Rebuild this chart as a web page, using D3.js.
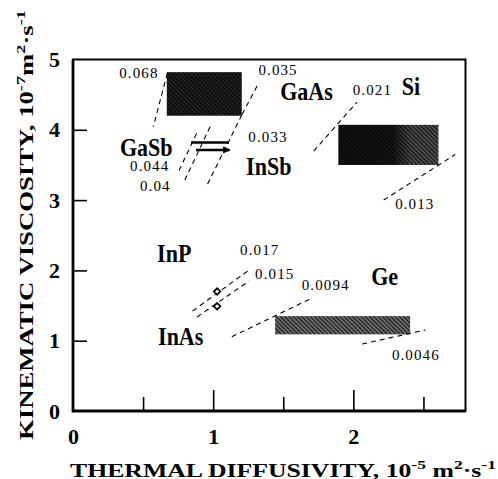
<!DOCTYPE html>
<html>
<head>
<meta charset="utf-8">
<script src="https://cdn.jsdelivr.net/npm/d3@7"></script>
<style>
    body { margin: 0; background: #fff; }
    svg { display: block; }
    text { font-family: "Liberation Serif", "Times New Roman", serif; fill: #000; }
</style>
</head>
<body>
<svg id="chart" width="498" height="479"></svg>
<script>

// Material boxes (thermal diffusivity range, kinematic viscosity range)
var boxNames = ['GaAs', 'Si', 'Ge'];
var boxAlpha = [[0.669, 1.204], [1.894, 2.607], [1.442, 2.405]];
var boxNu = [[4.20, 4.82], [3.50, 4.07], [1.09, 1.35]];

// Short bars for GaSb / InSb
var barNames = ['GaSb', 'InSb'];
var barAlpha = [[0.842, 1.113], [0.878, 1.117]];
var barNu = [3.819, 3.713];

// Single points for InP / InAs
var pointNames = ['InP', 'InAs'];
var pointAlpha = [1.028, 1.028];
var pointNu = [1.70, 1.49];

// Material labels
var labelNames = ['GaAs', 'Si', 'GaSb', 'InSb', 'InP', 'InAs', 'Ge'];
var labelAlpha = [1.478, 2.345, 0.335, 1.235, 0.60, 0.607, 2.127];
var labelNu = [4.424, 4.495, 3.63, 3.357, 2.12, 0.939, 1.792];

// Prandtl number lines (dashed) and their labels
var prValues = ['0.068', '0.035', '0.033', '0.044', '0.04', '0.021', '0.013', '0.017', '0.015', '0.0094', '0.0046'];
var prFrom = [[0.673, 4.804], [1.313, 4.623], [1.204, 4.21], [0.882, 3.949], [0.978, 4.044], [1.717, 3.698], [2.216, 3.001], [0.853, 1.422], [0.885, 1.337], [1.133, 1.057], [2.063, 0.953]];
var prTo = [[0.573, 4.044], [1.204, 4.21], [0.949, 3.186], [0.752, 3.403], [0.787, 3.239], [2.027, 4.395], [2.727, 3.649], [1.246, 1.991], [1.256, 1.849], [1.706, 1.607], [2.513, 1.152]];
var prLabelAlpha = [0.33, 1.323, 1.251, 0.407, 0.478, 1.996, 2.298, 1.192, 1.299, 1.632, 2.275];
var prLabelNu = [4.73, 4.78, 3.831, 3.41, 3.128, 4.495, 2.869, 2.219, 1.878, 1.721, 0.725];

// Axis ticks
var xMajorTicks = [1, 2];
var xMinorTicks = [0.5, 1.5, 2.5];
var xTickLabels = [0, 1, 2];
var yTicks = [1, 2, 3, 4];
var yTickLabels = [0, 1, 2, 3, 4, 5];


var svg = d3.select('#chart');

var x = d3.scaleLinear().domain([0, 2.8]).range([73, 465.5]);
var y = d3.scaleLinear().domain([0, 5]).range([411, 59.5]);

// patterns for the boxes
var defs = svg.append('defs');

var hatch = function(id, bg, line, lineWidth, gap) {
    var p = defs.append('pattern').attr('id', id)
        .attr('patternUnits', 'userSpaceOnUse')
        .attr('width', gap).attr('height', gap)
        .attr('patternTransform', 'rotate(-45)');
    p.append('rect').attr('width', gap).attr('height', gap).attr('fill', bg);
    p.append('line').attr('x1', gap / 2).attr('x2', gap / 2).attr('y1', 0).attr('y2', gap)
        .attr('stroke', line).attr('stroke-width', lineWidth);
};
hatch('fill_GaAs', '#0e0e0e', '#2e2e2e', 0.8, 3);
hatch('fill_Si', '#9a9a9a', '#111', 2.0, 3);
hatch('fill_Ge', '#cfcfcf', '#151515', 2.1, 3);

var grad = defs.append('linearGradient').attr('id', 'si_dark');
grad.append('stop').attr('offset', '0%').attr('stop-color', '#000').attr('stop-opacity', 0.8);
grad.append('stop').attr('offset', '55%').attr('stop-color', '#000').attr('stop-opacity', 0.75);
grad.append('stop').attr('offset', '72%').attr('stop-color', '#000').attr('stop-opacity', 0.15);
grad.append('stop').attr('offset', '100%').attr('stop-color', '#000').attr('stop-opacity', 0.1);

defs.append('marker').attr('id', 'arrow')
    .attr('viewBox', '0 0 10 10').attr('refX', 9).attr('refY', 5)
    .attr('markerWidth', 3).attr('markerHeight', 3).attr('orient', 'auto')
    .append('path').attr('d', 'M0,0 L10,5 L0,10 z').attr('fill', '#000');


// ---- axes ----
var xMajor = svg.append('g').attr('transform', 'translate(0,' + y(0) + ')')
    .call(d3.axisBottom(x).tickValues(xMajorTicks).tickSizeInner(-21).tickSizeOuter(0).tickFormat(''));
var xMinor = svg.append('g').attr('transform', 'translate(0,' + y(0) + ')')
    .call(d3.axisBottom(x).tickValues(xMinorTicks).tickSizeInner(-14).tickSizeOuter(0).tickFormat(''));
var yAx = svg.append('g').attr('transform', 'translate(' + x(0) + ',0)')
    .call(d3.axisLeft(y).tickValues(yTicks).tickSizeInner(-14).tickSizeOuter(0).tickFormat(''));
[xMajor, xMinor, yAx].forEach(function(g) {
    g.select('.domain').remove();
    g.selectAll('line').attr('stroke', '#000').attr('stroke-width', 1.6);
});

var xLab = svg.append('g').attr('transform', 'translate(0,' + y(0) + ')')
    .call(d3.axisBottom(x).tickValues(xTickLabels).tickSize(0).tickPadding(17).tickFormat(d3.format('d')));
var yLab = svg.append('g').attr('transform', 'translate(' + x(0) + ',0)')
    .call(d3.axisLeft(y).tickValues(yTickLabels).tickSize(0).tickPadding(13).tickFormat(d3.format('d')));
[xLab, yLab].forEach(function(g) {
    g.select('.domain').remove();
    g.selectAll('text').attr('font-family', '"Liberation Serif", serif')
        .attr('font-weight', 'bold').attr('font-size', 22).attr('fill', '#000');
});

// frame
svg.append('rect')
    .attr('x', x(0)).attr('y', y(5))
    .attr('width', x(2.8) - x(0)).attr('height', y(0) - y(5))
    .attr('fill', 'none').attr('stroke', '#000').attr('stroke-width', 2);
svg.append('path')
    .attr('d', 'M' + x(0) + ',' + y(5) + 'V' + y(0) + 'H' + x(2.8))
    .attr('fill', 'none').attr('stroke', '#000').attr('stroke-width', 2.8);


// ---- boxes ----
boxNames.forEach(function(name, i) {
    svg.append('rect')
        .attr('x', x(boxAlpha[i][0])).attr('y', y(boxNu[i][1]))
        .attr('width', x(boxAlpha[i][1]) - x(boxAlpha[i][0]))
        .attr('height', y(boxNu[i][0]) - y(boxNu[i][1]))
        .attr('fill', 'url(#fill_' + name + ')');
    if (name == 'Si') {
        svg.append('rect')
            .attr('x', x(boxAlpha[i][0])).attr('y', y(boxNu[i][1]))
            .attr('width', x(boxAlpha[i][1]) - x(boxAlpha[i][0]))
            .attr('height', y(boxNu[i][0]) - y(boxNu[i][1]))
            .attr('fill', 'url(#si_dark)');
    }
});

// ---- Prandtl dashed lines ----
prValues.forEach(function(pr, i) {
    svg.append('line')
        .attr('x1', x(prFrom[i][0])).attr('y1', y(prFrom[i][1]))
        .attr('x2', x(prTo[i][0])).attr('y2', y(prTo[i][1]))
        .attr('stroke', '#000').attr('stroke-width', 1.1)
        .attr('stroke-dasharray', '5,4');

    svg.append('text')
        .attr('x', x(prLabelAlpha[i])).attr('y', y(prLabelNu[i]))
        .attr('font-size', 15).attr('letter-spacing', 1.1)
        .text(pr);
});

// ---- GaSb / InSb bars ----
barNames.forEach(function(name, i) {
    svg.append('line')
        .attr('x1', x(barAlpha[i][0])).attr('y1', y(barNu[i]))
        .attr('x2', x(barAlpha[i][1])).attr('y2', y(barNu[i]))
        .attr('stroke', '#000').attr('stroke-width', 2.4)
        .attr('marker-end', name == 'InSb' ? 'url(#arrow)' : null);
});

// ---- InP / InAs points ----
pointNames.forEach(function(name, i) {
    svg.append('path')
        .attr('transform', 'translate(' + x(pointAlpha[i]) + ',' + y(pointNu[i]) + ') rotate(45)')
        .attr('d', d3.symbol().type(d3.symbolSquare).size(22)())
        .attr('fill', '#fff').attr('stroke', '#000').attr('stroke-width', 1.7);
});

// ---- material labels (condensed bold, like the scan) ----
labelNames.forEach(function(name, i) {
    svg.append('text')
        .attr('transform', 'translate(' + x(labelAlpha[i]) + ',' + y(labelNu[i]) + ') scale(0.88,1)')
        .attr('font-size', 25).attr('font-weight', 'bold')
        .text(name);
});


// ---- axis titles ----
var xTitle = svg.append('text')
    .attr('x', 70).attr('y', 476.5)
    .attr('font-size', 19).attr('font-weight', 'bold')
    .attr('textLength', 426).attr('lengthAdjust', 'spacingAndGlyphs');
xTitle.append('tspan').text('THERMAL DIFFUSIVITY, 10');
xTitle.append('tspan').attr('dy', -8).attr('font-size', 13).text('-5');
xTitle.append('tspan').attr('dy', 8).text(' m');
xTitle.append('tspan').attr('dy', -8).attr('font-size', 13).text('2');
xTitle.append('tspan').attr('dy', 8).text('·s');
xTitle.append('tspan').attr('dy', -8).attr('font-size', 13).text('-1');

var yTitle = svg.append('text')
    .attr('transform', 'translate(33,225) rotate(-90)')
    .attr('text-anchor', 'middle')
    .attr('font-size', 19).attr('font-weight', 'bold')
    .attr('textLength', 430).attr('lengthAdjust', 'spacingAndGlyphs');
yTitle.append('tspan').text('KINEMATIC VISCOSITY, 10');
yTitle.append('tspan').attr('dy', -8).attr('font-size', 13).text('-7');
yTitle.append('tspan').attr('dy', 8).text('m');
yTitle.append('tspan').attr('dy', -8).attr('font-size', 13).text('2');
yTitle.append('tspan').attr('dy', 8).text('·s');
yTitle.append('tspan').attr('dy', -8).attr('font-size', 13).text('-1');

</script>
</body>
</html>
